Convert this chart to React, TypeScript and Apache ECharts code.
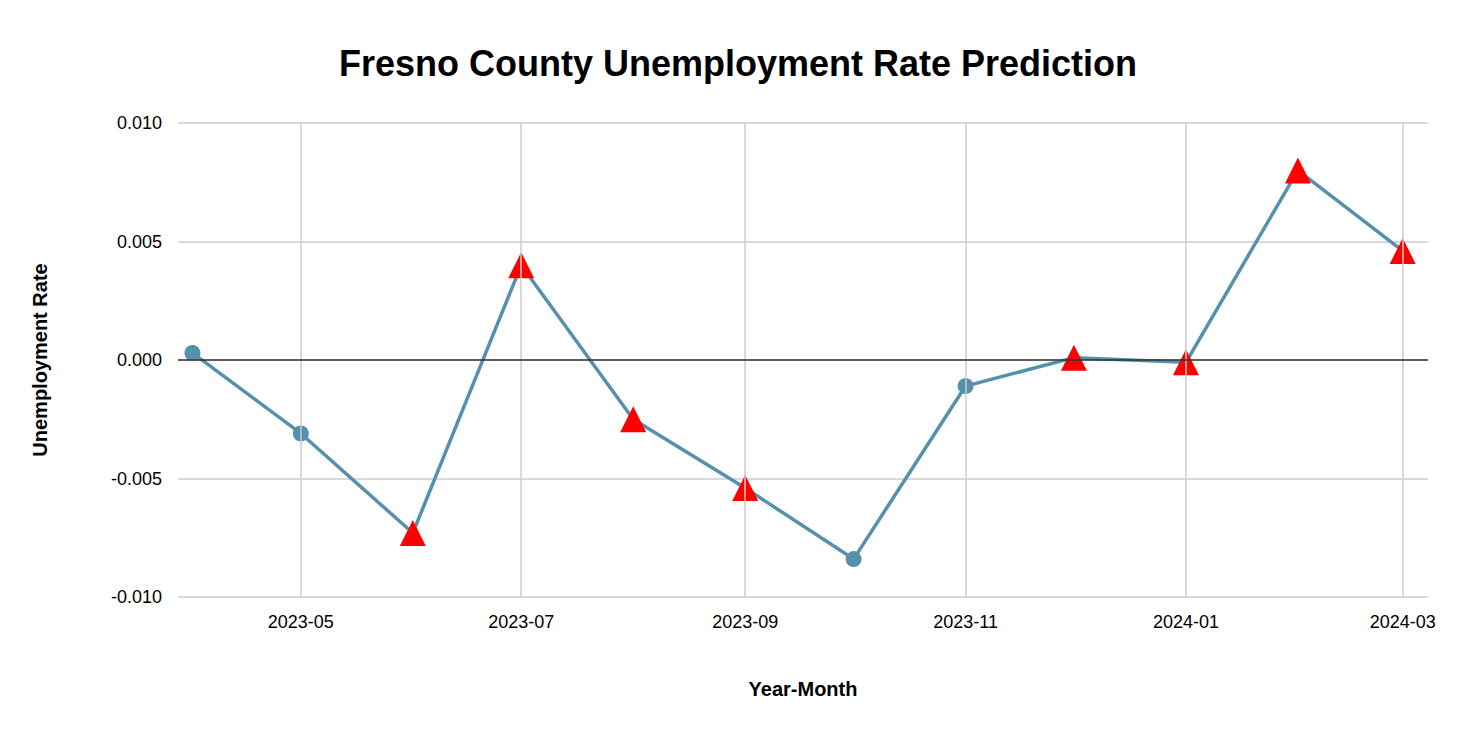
import React, { useEffect, useRef } from "react";
import * as echarts from "echarts";

const months = [
  "2023-04-01", "2023-05-01", "2023-06-01", "2023-07-01", "2023-08-01", "2023-09-01",
  "2023-10-01", "2023-11-01", "2023-12-01", "2024-01-01", "2024-02-01", "2024-03-01",
];
const rates = [
  0.0003, -0.0031, -0.0073, 0.004, -0.0025, -0.0054,
  -0.0084, -0.0011, 0.0001, -0.0001, 0.008, 0.0046,
];
// true = predicted (triangle), false = actual (circle)
const predicted = [false, false, true, true, true, true, false, false, true, true, true, true];
const tickMonths = ["2023-05-01", "2023-07-01", "2023-09-01", "2023-11-01", "2024-01-01", "2024-03-01"];

const ts = (d: string) => new Date(d + "T00:00:00Z").getTime();

const App: React.FC = () => {
  const chartRef = useRef<HTMLDivElement>(null);

  useEffect(() => {
    if (!chartRef.current) return;
    const chart = echarts.init(chartRef.current, null, { renderer: "svg" });
    const tickValues = tickMonths.map(ts);

    const option: echarts.EChartsOption = {
      animation: false,
      textStyle: { fontFamily: "Arial, Liberation Sans, sans-serif" },
      title: {
        text: "Fresno County Unemployment Rate Prediction",
        left: 733,
        textAlign: "center",
        top: 40,
        textStyle: { fontSize: 36, fontWeight: "bold", color: "#000" },
      },
      grid: { left: 178, right: 38, top: 123, bottom: 141 },
      xAxis: {
        type: "value",
        min: ts("2023-03-28"),
        max: ts("2024-03-08"),
        name: "Year-Month",
        nameLocation: "middle",
        nameGap: 82,
        nameTextStyle: { fontSize: 20, fontWeight: "bold", color: "#000" },
        axisLine: { show: false },
        axisTick: { show: false, customValues: tickValues },
        axisLabel: {
          customValues: tickValues,
          fontSize: 18,
          color: "#000",
          margin: 16,
          formatter: (v: number) => {
            const d = new Date(v);
            return `${d.getUTCFullYear()}-${String(d.getUTCMonth() + 1).padStart(2, "0")}`;
          },
        },
        splitLine: { show: false },
      },
      yAxis: {
        type: "value",
        min: -0.01,
        max: 0.01,
        interval: 0.005,
        name: "Unemployment Rate",
        nameLocation: "middle",
        nameGap: 128,
        nameTextStyle: { fontSize: 20, fontWeight: "bold", color: "#000" },
        axisLine: { show: false },
        axisTick: { show: false },
        axisLabel: { fontSize: 18, color: "#000", margin: 16, formatter: (v: number) => v.toFixed(3) },
        splitLine: { lineStyle: { color: "#cccccc", width: 1.5 } },
      },
      series: [
        {
          type: "line",
          data: rates.map((r, i) => ({
            value: [ts(months[i]), r],
            symbol: predicted[i] ? "triangle" : "circle",
            symbolSize: predicted[i] ? 26 : 16,
            itemStyle: { color: predicted[i] ? "#ff0000" : "#5591ad" },
          })),
          lineStyle: { color: "#5591ad", width: 3.5 },
          z: 3,
          markLine: {
            silent: true,
            symbol: "none",
            label: { show: false },
            data: [
              ...tickValues.map((v) => ({ xAxis: v, lineStyle: { color: "#cccccc", width: 1.5, type: "solid" as const } })),
              { yAxis: 0, lineStyle: { color: "#333333", width: 1.5, type: "solid" as const } },
            ],
          },
        },
      ],
    };

    chart.setOption(option);
    return () => chart.dispose();
  }, []);

  return <div ref={chartRef} style={{ position: "fixed", left: 0, top: 0, width: 1466, height: 738, background: "#fff" }} />;
};

export default App;
